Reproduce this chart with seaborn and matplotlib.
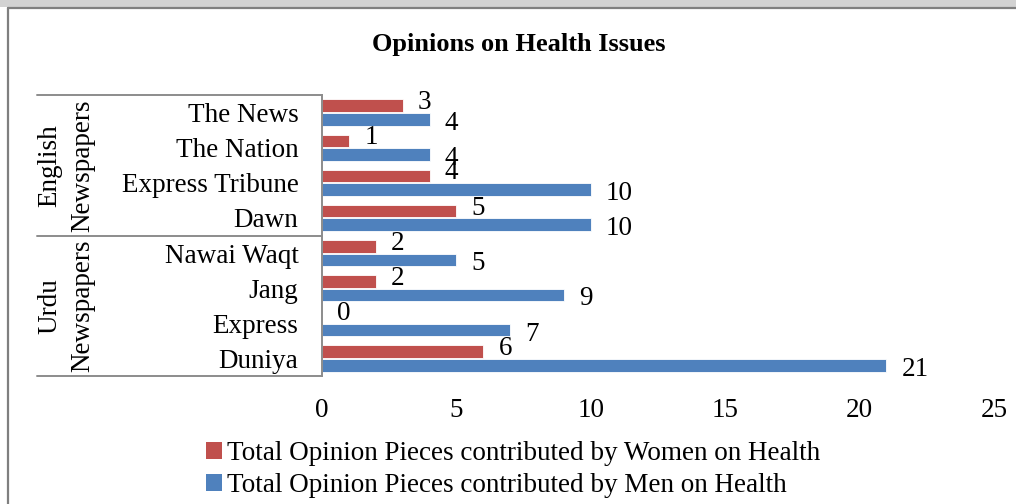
import matplotlib
matplotlib.use("Agg")
import matplotlib.pyplot as plt
from matplotlib.patches import Rectangle
from matplotlib.lines import Line2D
import seaborn as sns
import pandas as pd

# Opinion pieces on health, per newspaper
newspapers = ["The News", "The Nation", "Express Tribune", "Dawn",
              "Nawai Waqt", "Jang", "Express", "Duniya"]
group_names = ["English\nNewspapers", "Urdu\nNewspapers"]
group_sizes = [4, 4]
women = [3, 1, 4, 5, 2, 2, 0, 6]
men = [4, 4, 10, 10, 5, 9, 7, 21]
series_names = ["Total Opinion Pieces contributed by Women on Health",
                "Total Opinion Pieces contributed by Men on Health"]
x_ticks = [0, 5, 10, 15, 20, 25]
title = "Opinions on Health Issues"

RED = "#C0504D"
BLUE = "#4F81BD"
GRID_GREY = "#8C8C8C"
FS = 19.5

sns.set_style("white")
plt.rcParams["font.family"] = ["Liberation Serif", "DejaVu Serif"]
plt.rcParams["text.color"] = "black"
plt.rcParams["xtick.color"] = "black"
plt.rcParams["ytick.color"] = "black"

W, H, DPI = 1016, 504, 100
fig = plt.figure(figsize=(W / DPI, H / DPI), dpi=DPI)
fig.patch.set_facecolor("white")

def fx(px):
    return px / W

def fy(py):
    return 1 - py / H

# window-style frame: grey strip at the top and a border line on the left
fig.add_artist(Rectangle((0, fy(7)), 1, 7 / H, transform=fig.transFigure,
                         facecolor="#d2d2d2", edgecolor="none"))
fig.add_artist(Line2D([fx(8), 1], [fy(7.5), fy(7.5)], transform=fig.transFigure,
                      color="#7f7f7f", lw=1.6))
fig.add_artist(Line2D([fx(8), fx(8)], [0, fy(7.5)], transform=fig.transFigure,
                      color="#7f7f7f", lw=1.6))

ax = fig.add_axes([fx(322), fy(376), fx(994) - fx(322), fy(95) - fy(376)])

df = pd.DataFrame({
    "Newspaper": newspapers * 2,
    "Count": women + men,
    "Series": [series_names[0]] * len(newspapers) + [series_names[1]] * len(newspapers),
})

sns.barplot(data=df, y="Newspaper", x="Count", hue="Series", orient="h",
            order=newspapers, hue_order=series_names, palette=[RED, BLUE],
            saturation=1, width=0.78, gap=0.08, edgecolor="white",
            linewidth=0.6, legend=False, ax=ax)

ax.set_xlim(0, 25)
ax.set_ylim(len(newspapers) - 0.5, -0.5)
ax.set_xticks(x_ticks)
ax.set_xticklabels([str(t) for t in x_ticks])
ax.set_xlabel("")
ax.set_ylabel("")
ax.tick_params(axis="x", length=0, pad=16, labelsize=FS)
ax.tick_params(axis="y", length=0, pad=17, labelsize=FS)
for s in ["top", "right", "bottom"]:
    ax.spines[s].set_visible(False)
ax.spines["left"].set_color(GRID_GREY)
ax.spines["left"].set_linewidth(1.4)

# value labels next to each bar
for container, values, dy in zip(ax.containers, [women, men], [-2.5, -7.5]):
    for bar, v in zip(container, values):
        yc = bar.get_y() + bar.get_height() / 2
        ax.annotate(str(v), xy=(v, yc), xytext=(11, dy), textcoords="offset points",
                    ha="left", va="baseline", fontsize=FS, color="black",
                    annotation_clip=False)

# multi-level category axis: separators and group labels
ytr = ax.get_yaxis_transform()
x_left = (37 - 322) / (994 - 322)
x_group = (66 - 322) / (994 - 322)
bounds = [-0.5]
for n in group_sizes:
    bounds.append(bounds[-1] + n)
for b in bounds:
    ax.plot([x_left, 0], [b, b], transform=ytr, color=GRID_GREY, lw=1.4,
            clip_on=False)
for name, lo, hi in zip(group_names, bounds[:-1], bounds[1:]):
    ax.text(x_group, (lo + hi) / 2, name, transform=ytr, rotation=90,
            ha="center", va="center", fontsize=FS, linespacing=1.4,
            multialignment="center")

fig.text(fx(519), fy(45), title, ha="center", va="center",
         fontsize=19, fontweight="bold")

handles = [Rectangle((0, 0), 1, 1, facecolor=c, edgecolor="none") for c in [RED, BLUE]]
fig.legend(handles, series_names, loc="upper left",
           bbox_to_anchor=(fx(206), fy(441)), frameon=False, fontsize=FS,
           handlelength=0.6, handleheight=0.6, handletextpad=0.18,
           labelspacing=0.27, borderaxespad=0, borderpad=0)

fig.savefig("out.png", dpi=DPI, facecolor="white")
